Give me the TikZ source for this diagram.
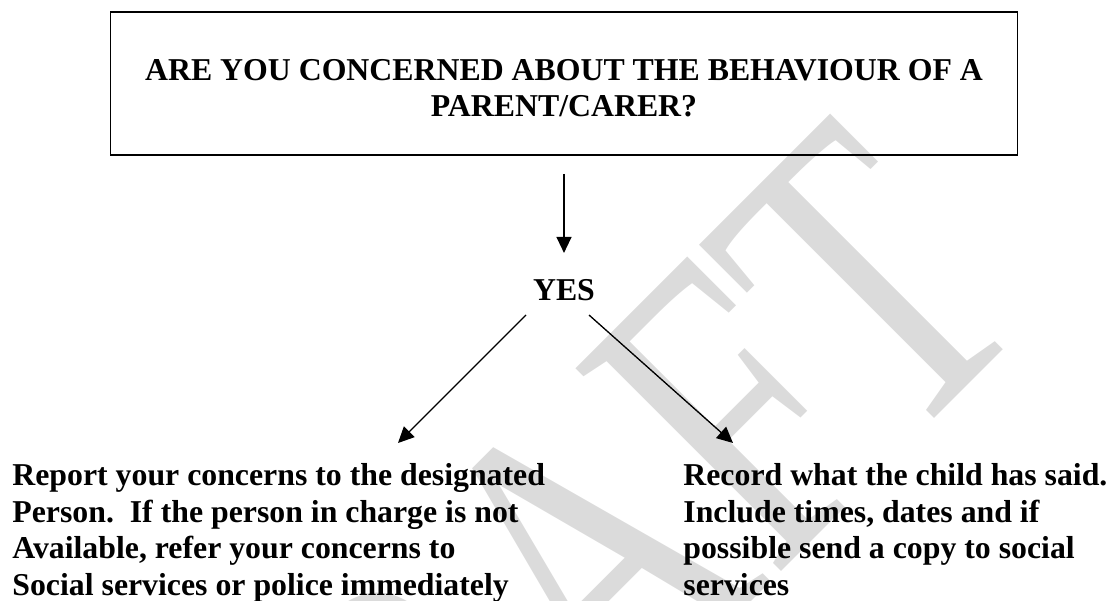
\documentclass[tikz,border=0pt]{standalone}
\usepackage{fontspec}
\setmainfont{Liberation Serif}
\usetikzlibrary{arrows.meta,positioning}
\definecolor{wmgray}{gray}{0.86}

\begin{document}
\begin{tikzpicture}[x=0.5pt,y=-0.5pt,
    every node/.style={font=\fontsize{15.9}{18.3}\selectfont\bfseries},
    flow/.style={-{Triangle[length=8pt,width=7.5pt]},line width=0.65pt},
    questionbox/.style={draw,line width=0.9pt,minimum width=453.5pt,minimum height=71.5pt},
    answer/.style={align=left,anchor=north west,inner sep=0pt}]
  \useasboundingbox (0,0) rectangle (1114,600);
  % watermark behind everything
  \begin{scope}
    \clip (0,0) rectangle (1114,600);
    \node[font=\fontsize{220.5}{220.5}\selectfont,text=wmgray,rotate=45,xscale=0.73,
          anchor=base east,inner sep=0pt] (draft) at (1039,314) {DRAFT};
  \end{scope}
  \node[questionbox] (question) at (564,83.5) {};
  \node[align=center,inner sep=0pt] (questionText) at ([yshift=-2.25pt]question.center)
    {ARE YOU CONCERNED ABOUT THE BEHAVIOUR OF A\\ PARENT/CARER?};
  \node[inner sep=0pt] (yes) at (564,290) {YES};
  \coordinate (reportTip) at (398,443);
  \coordinate (recordTip) at (733,443);
  \node[answer] (report) at (12,463) {Report your concerns to the designated\\
    Person.\ \ If the person in charge is not\\
    Available, refer your concerns to\\
    Social services or police immediately};
  \node[answer] (record) at (683,463) {Record what the child has said.\\
    Include times, dates and if\\
    possible send a copy to social\\
    services};
  \draw[flow,shorten <=9pt,shorten >=13pt] (question.south) -- (yes.north);
  \draw[flow] ([shift={(-38,25)}]yes.center) -- (reportTip);
  \draw[flow] ([shift={(25,25)}]yes.center) -- (recordTip);
\end{tikzpicture}
\end{document}
